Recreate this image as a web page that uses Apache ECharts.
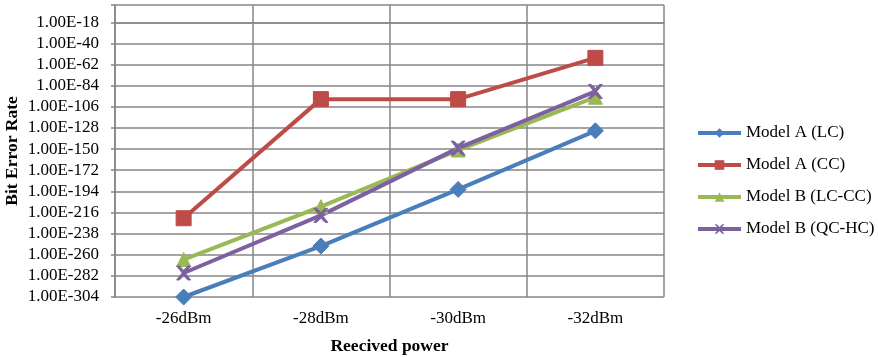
<!DOCTYPE html>
<html>
<head>
<meta charset="utf-8">
<script src="https://cdn.jsdelivr.net/npm/echarts@6/dist/echarts.min.js"></script>
<style>
  html, body { margin: 0; padding: 0; background: #fff; }
  #chart { width: 878px; height: 357px; }
</style>
</head>
<body>
<div id="chart"></div>
<script>
// Received power levels along the x axis
const categories = ['-26dBm', '-28dBm', '-30dBm', '-32dBm'];

// Bit error rate, stored as base-10 exponents (value -304 means 1.00E-304)
const modelA_LC   = [-304, -251, -192, -131];
const modelA_CC   = [-222, -98, -98, -55];
const modelB_LCCC = [-265, -210, -151, -96];
const modelB_QCHC = [-279, -219, -149, -90];

// Exponent tick labels shown on the y axis
const tickExponents = [-18, -40, -62, -84, -106, -128, -150, -172, -194, -216, -238, -260, -282, -304];

const seriesNames = ['Model A (LC)', 'Model A (CC)', 'Model B (LC-CC)', 'Model B (QC-HC)'];

// The axis runs on shifted exponents so that ticks line up with multiples of the step
const step = tickExponents[0] - tickExponents[1];
const shift = -tickExponents[0];
const toAxis = e => e + shift;

const serif = '"Liberation Serif", "DejaVu Serif", serif';

function makeSeries(name, values, color, symbol, size) {
  return {
    name: name,
    type: 'line',
    data: values.map(toAxis),
    symbol: symbol,
    symbolSize: size,
    lineStyle: { color: color, width: 4 },
    itemStyle: { color: color, borderColor: color },
    emphasis: { disabled: true }
  };
}

const chart = echarts.init(document.getElementById('chart'), null, { renderer: 'canvas' });

chart.setOption({
  animation: false,
  backgroundColor: '#ffffff',
  grid: { left: 115, right: 214, top: 5, bottom: 60, containLabel: false, outerBoundsMode: 'none' },
  legend: {
    orient: 'vertical',
    left: 696,
    top: 124,
    padding: 0,
    itemWidth: 43,
    itemHeight: 12,
    itemGap: 14,
    lineStyle: { width: 4 },
    textStyle: { fontFamily: serif, fontSize: 17, lineHeight: 18, color: '#000' },
    data: seriesNames
  },
  xAxis: {
    type: 'category',
    data: categories,
    boundaryGap: true,
    name: 'Reecived power',
    nameLocation: 'middle',
    nameGap: 40,
    nameMoveOverlap: false,
    nameTextStyle: { fontFamily: serif, fontSize: 17.5, fontWeight: 'bold', color: '#000' },
    axisLine: { lineStyle: { color: '#868686', width: 1.5 } },
    axisTick: { show: false },
    axisLabel: { fontFamily: serif, fontSize: 17, color: '#000', margin: 13 },
    splitLine: { show: true, lineStyle: { color: '#868686', width: 1.5 } }
  },
  yAxis: {
    type: 'value',
    min: toAxis(tickExponents[tickExponents.length - 1]),
    max: toAxis(0),
    interval: step,
    name: 'Bit Error Rate',
    nameLocation: 'middle',
    nameRotate: 90,
    nameGap: 94,
    nameMoveOverlap: false,
    nameTextStyle: { fontFamily: serif, fontSize: 17.5, fontWeight: 'bold', color: '#000' },
    axisLine: { show: true, lineStyle: { color: '#868686', width: 1.5 } },
    axisTick: { show: true, length: 4, lineStyle: { color: '#868686', width: 1.5 } },
    axisLabel: {
      fontFamily: serif, fontSize: 17, color: '#000', margin: 16,
      formatter: v => (v > 0 ? '' : '1.00E' + (v - shift))
    },
    splitLine: { show: true, lineStyle: { color: '#868686', width: 1.5 } }
  },
  series: [
    makeSeries(seriesNames[0], modelA_LC, '#4a7ebb', 'diamond', 16),
    makeSeries(seriesNames[1], modelA_CC, '#be4b48', 'rect', 15),
    makeSeries(seriesNames[2], modelB_LCCC, '#98b954', 'triangle', 14),
    makeSeries(seriesNames[3], modelB_QCHC, '#7d60a0',
      'path://M0,0 L2,0 L5,3 L8,0 L10,0 L6,5 L10,10 L8,10 L5,7 L2,10 L0,10 L4,5 Z', 14)
  ]
});
</script>
</body>
</html>
